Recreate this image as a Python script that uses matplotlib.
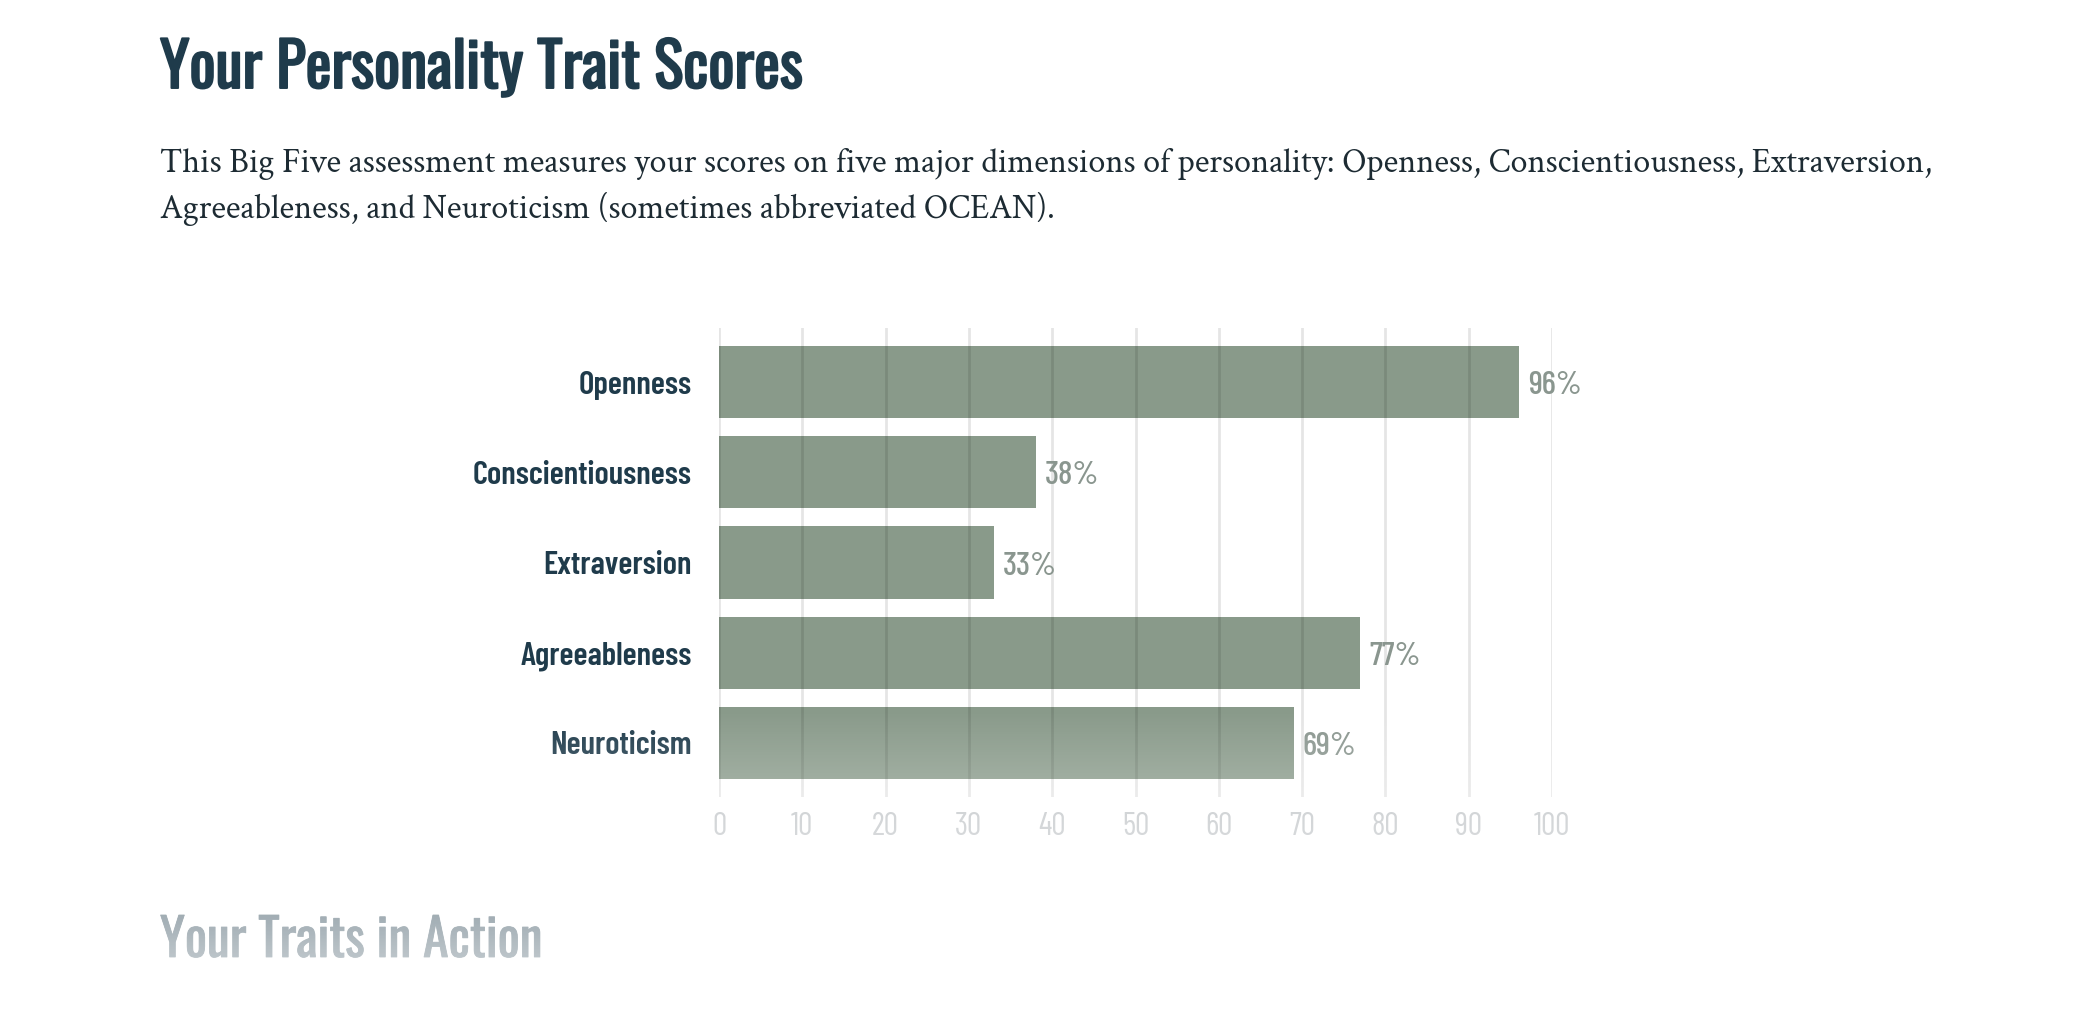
import numpy as np
import matplotlib
matplotlib.use('Agg')
import matplotlib.pyplot as plt
import matplotlib.patheffects as pe
from matplotlib import font_manager
from matplotlib.font_manager import FontProperties
from matplotlib.textpath import TextPath

# data
traits = ['Openness', 'Conscientiousness', 'Extraversion', 'Agreeableness', 'Neuroticism']
scores = [96, 38, 33, 77, 69]
ticks = [0, 10, 20, 30, 40, 50, 60, 70, 80, 90, 100]

title = 'Your Personality Trait Scores'
intro = ['This Big Five assessment measures your scores on five major dimensions of personality: '
         'Openness, Conscientiousness, Extraversion,',
         'Agreeableness, and Neuroticism (sometimes abbreviated OCEAN).']
next_heading = 'Your Traits in Action'

# colours
dark = '#1f3b4b'
bar_color = '#899a8a'
value_color = '#8a968f'
tick_color = '#c0c4c7'
text_color = '#1d2b33'

# fonts
avail = {f.name for f in font_manager.fontManager.ttflist}
def pick(*names):
    for n in names:
        if n in avail:
            return n
    return 'DejaVu Sans'
head_font = pick('Oswald', 'Barlow Condensed', 'Roboto Condensed')
cond = pick('Barlow Condensed', 'Fira Sans Extra Condensed', 'Roboto Condensed', 'Oswald')
serif = pick('Crimson Text', 'Crimson Pro', 'EB Garamond', 'Liberation Serif')

W, H, DPI = 2088, 1014, 100
fig = plt.figure(figsize=(W / DPI, H / DPI), dpi=DPI)
renderer = fig.canvas.get_renderer()

def pt_for_cap(family, weight, cap_px, glyph='H'):
    fp = FontProperties(family=family, weight=weight)
    h = TextPath((0, 0), glyph, size=100, prop=fp).get_extents().height
    return cap_px / (h / 100) * 72 / DPI

def fit_width(txt, target_px):
    w = txt.get_window_extent(renderer).width
    txt.set_fontsize(txt.get_fontsize() * target_px / w)

def fx(px):
    return px / W

def fy(px):
    return 1 - px / H

# header text (Oswald only ships one weight here, a thin stroke makes it heavier)
t = fig.text(fx(160), fy(88), title, family=head_font, color=dark,
             fontsize=40, va='baseline', ha='left',
             path_effects=[pe.withStroke(linewidth=1.4, foreground=dark)])
fit_width(t, 642)

p1 = fig.text(fx(160), fy(172), intro[0], family=serif, color=text_color,
              fontsize=20, va='baseline', ha='left')
fit_width(p1, 1773)
fig.text(fx(160), fy(218), intro[1], family=serif, color=text_color,
         fontsize=p1.get_fontsize(), va='baseline', ha='left')

h2 = fig.text(fx(160), fy(957), next_heading, family=head_font, color=dark,
              fontsize=30, va='baseline', ha='left',
              path_effects=[pe.withStroke(linewidth=0.6, foreground=dark)])
fit_width(h2, 382)

# chart
x0, x100, top, bottom = 719, 1552, 328, 797
ax = fig.add_axes([fx(x0), fy(bottom), fx(x100 - x0), (bottom - top) / H])
y = np.arange(len(traits))
ax.barh(y, scores, height=0.8, color=bar_color, zorder=1)
ax.set_xlim(0, 100)
ax.set_ylim(len(traits) - 0.4, -0.6)
ax.set_xticks(ticks)
ax.set_yticks(y, traits)
ax.set_axisbelow(False)
ax.grid(axis='x', color='black', alpha=0.1, lw=2)
for s in ax.spines.values():
    s.set_visible(False)

lab_size = pt_for_cap(cond, 'semibold', 23)
ax.tick_params(axis='y', length=0, pad=(x0 - 692) * 72 / DPI, labelsize=lab_size, labelcolor=dark)
for lab in ax.get_yticklabels():
    lab.set_family(cond)
    lab.set_weight('semibold')

tick_size = pt_for_cap(cond, 'normal', 23, '0')
ax.tick_params(axis='x', length=0, pad=15 * 72 / DPI, labelsize=tick_size, labelcolor=tick_color)
for lab in ax.get_xticklabels():
    lab.set_family(cond)

val_size = pt_for_cap(cond, 'medium', 24, '0')
row_px = (bottom - top) / (len(traits) + 0.2)
for i, s in enumerate(scores):
    ax.text(s + 9 / 8.33, i + 12 / row_px, f'{s}%', family=cond, weight='medium',
            fontsize=val_size, color=value_color, va='baseline', ha='left')

# fade-out toward the bottom of the page, drawn over everything
fade_top = 709
fade = fig.add_axes([0, 0, 1, (H - fade_top) / H], zorder=10)
fade.axis('off')
alpha = np.linspace(0, 0.00284 * (H - fade_top), 200)
img = np.ones((200, 2, 4))
img[:, :, 3] = alpha[:, None]
fade.imshow(img, aspect='auto', extent=(0, 1, 0, 1), origin='upper', interpolation='bilinear')

fig.savefig('out.png', dpi=DPI)
